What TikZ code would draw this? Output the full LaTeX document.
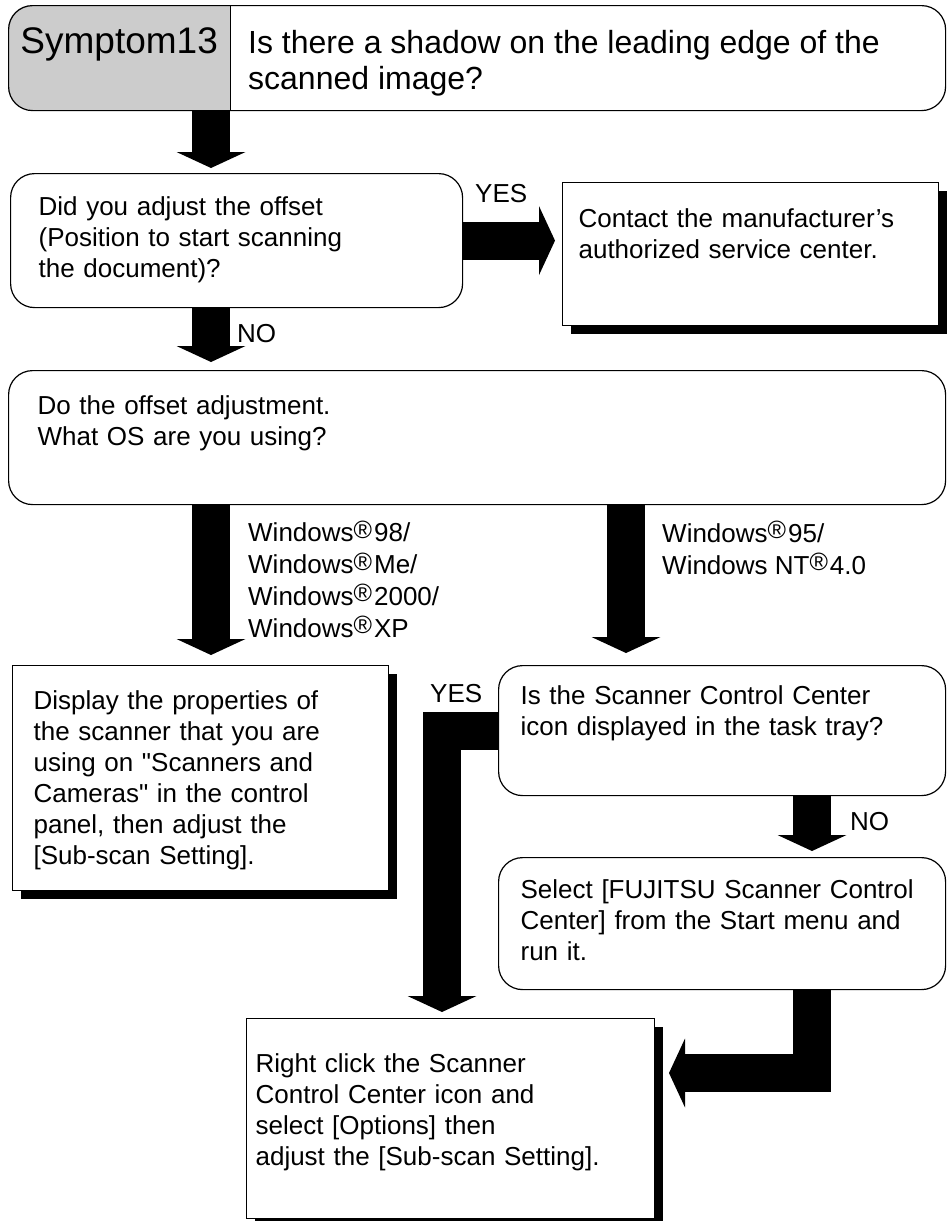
\documentclass[tikz,border=0pt]{standalone}
\usepackage{fontspec}
\setmainfont{Liberation Sans}[Ligatures=TeXOff]
\usetikzlibrary{arrows.meta,shadows}

\newcommand{\stdtxt}{\fontsize{26pt}{31pt}\selectfont}
\newcommand{\ostxt}{\fontsize{26pt}{31.7pt}\selectfont}
\newcommand{\symtxt}{\fontsize{37pt}{40pt}\selectfont}
\newcommand{\ttltxt}{\fontsize{32pt}{36pt}\selectfont}
\newcommand{\regmark}{\raisebox{3.5pt}{\fontsize{25pt}{25pt}\selectfont ®}\kern2pt}

\begin{document}
\begin{tikzpicture}[
    x=1pt, y=-1pt,
    rbox/.style={draw, line width=1.2pt, rounded corners=24pt, anchor=north west, align=left, inner ysep=0pt, font=\stdtxt},
    sbox/.style={draw, line width=1.2pt, fill=white, anchor=north west, align=left, inner ysep=0pt, font=\stdtxt,
        drop shadow={shadow xshift=8pt, shadow yshift=-8pt, fill=black, opacity=1}},
    fat/.style={line width=38pt, line join=miter, -{Triangle[width=69pt, length=16pt, line width=0pt]}},
    lbl/.style={anchor=base west, inner sep=0pt, align=left, font=\stdtxt},
]
    \path[use as bounding box, fill=white] (0,0) rectangle (946,1221);

    % Title bar
    \begin{scope}
        \clip[rounded corners=24pt] (8,5) rectangle (945,110);
        \node[fill=gray!40, anchor=north west, inner sep=0pt, minimum width=222pt, text height=48pt, text depth=57pt, font=\symtxt] (symp) at (8,5) {Symptom13};
    \end{scope}
    \node[rbox, inner sep=0pt, minimum width=937pt, minimum height=105pt] (title) at (8,5) {};
    \draw[line width=1.2pt] (symp.north east) -- (symp.south east);
    \node[lbl, font=\ttltxt] (ttlq) at (248,89) {Is there a shadow on the leading edge of the\\scanned image?};

    % Boxes
    \node[rbox, text width=396pt, inner xsep=28pt, text height=42pt, text depth=92pt] (q1) at (10,173) {Did you adjust the offset\\(Position to start scanning\\the document)?};
    \node[sbox, text width=344pt, inner xsep=16pt, text height=45pt, text depth=98pt] (contact) at (562,182) {Contact the manufacturer’s\\authorized service center.};
    \node[rbox, text width=879pt, inner xsep=29pt, text height=44pt, text depth=90pt] (q2) at (8,370) {Do the offset adjustment.\\What OS are you using?};
    \node[sbox, text width=334pt, inner xsep=21pt, text height=44pt, text depth=181pt] (disp) at (12,665) {Display the properties of\\the scanner that you are\\using on "Scanners and\\Cameras" in the control\\panel, then adjust the\\{}[Sub-scan Setting].};
    \node[rbox, text width=403pt, inner xsep=22pt, text height=39pt, text depth=91pt] (q3) at (498,665) {Is the Scanner Control Center\\icon displayed in the task tray?};
    \node[rbox, text width=403pt, inner xsep=22pt, text height=41pt, text depth=91pt] (sel) at (498,857) {Select [FUJITSU Scanner Control\\Center] from the Start menu and\\run it.};
    \node[sbox, text width=390pt, inner xsep=9pt, text height=54pt, text depth=146pt] (rclick) at (246,1018) {Right click the Scanner\\Control Center icon and\\select [Options] then\\adjust the [Sub-scan Setting].};

    % Labels (base = last line)
    \node[lbl] (yesA) at (475,202) {YES};
    \node[lbl] (noA) at (237,342) {NO};
    \node[lbl, font=\ostxt] (osA) at (248,637) {Windows\regmark 98/\\Windows\regmark Me/\\Windows\regmark 2000/\\Windows\regmark XP};
    \node[lbl, font=\ostxt] (osB) at (662,574) {Windows\regmark 95/\\Windows NT\regmark 4.0};
    \node[lbl] (yesB) at (430,702) {YES};
    \node[lbl] (noB) at (850,830) {NO};

    % Arrow columns
    \coordinate (colL) at (211,0);
    \coordinate (colM) at (626,0);
    \coordinate (colY) at (442,0);
    \coordinate (colR) at (812,0);
    \coordinate (inR) at (669,1073);

    % Arrows
    \draw[fat, shorten >=5pt] (title.south -| colL) -- (q1.north -| colL);
    \draw[fat, shorten >=7pt] (q1.east) -- (q1.east -| contact.west);
    \draw[fat, shorten >=8pt] (q1.south -| colL) -- (q2.north -| colL);
    \draw[fat, shorten >=10pt] (q2.south -| colL) -- (disp.north -| colL);
    \draw[fat, shorten >=12pt] (q2.south -| colM) -- (q3.north -| colM);
    \draw[fat, shorten >=6pt] (q3.west) -| (rclick.north -| colY);
    \draw[fat, shorten >=6pt] (q3.south -| colR) -- (sel.north -| colR);
    \draw[fat] (sel.south -| colR) |- (inR);
\end{tikzpicture}
\end{document}
